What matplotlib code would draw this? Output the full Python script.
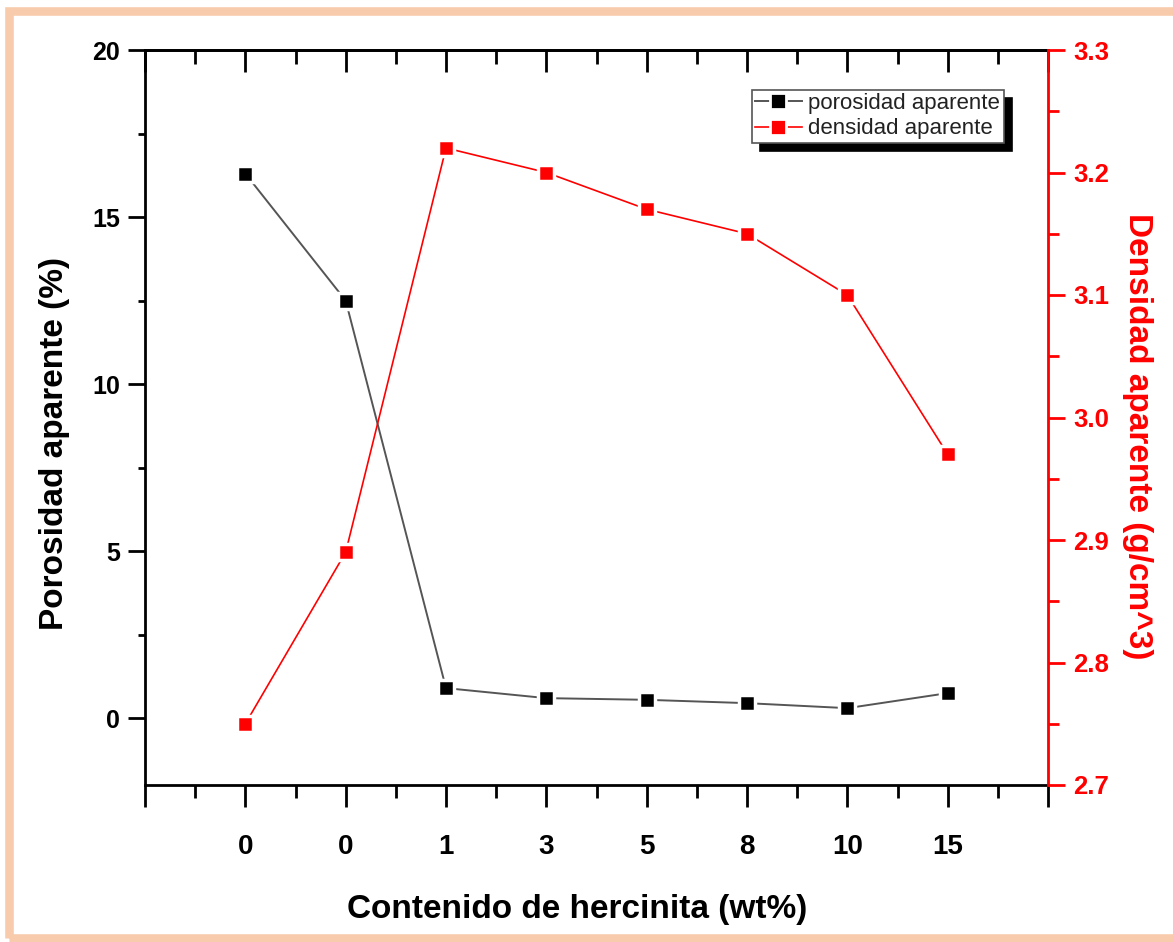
import matplotlib
matplotlib.use("Agg")
import matplotlib.pyplot as plt
from matplotlib.patches import Rectangle
from matplotlib.lines import Line2D
import numpy as np

plt.rcParams["font.family"] = ["Liberation Sans", "DejaVu Sans"]

# datos
etiquetas_x = ["0", "0", "1", "3", "5", "8", "10", "15"]
porosidad = [16.3, 12.5, 0.9, 0.6, 0.55, 0.45, 0.3, 0.75]
densidad = [2.75, 2.89, 3.22, 3.20, 3.17, 3.15, 3.10, 2.97]

W, H = 1173, 942
fig = plt.figure(figsize=(W / 100, H / 100), dpi=100, facecolor="white")

# marco color durazno
fig.patches.append(
    Rectangle((8.5 / W, 4 / H), (1176 - 8.5) / W, (931 - 4) / H,
              transform=fig.transFigure, fill=False,
              edgecolor="#F8CBAD", linewidth=6.2)
)

ax = fig.add_axes([145 / W, 1 - 785 / H, 903 / W, 735 / H])
ax2 = ax.twinx()

pos = np.arange(1, len(etiquetas_x) + 1)

ax.plot(pos, porosidad, color="#555555", lw=1.4, marker="s", ms=12,
        mfc="black", mec="white", mew=2.5, zorder=3)
ax2.plot(pos, densidad, color="red", lw=1.2, marker="s", ms=12,
         mfc="red", mec="white", mew=2.5, zorder=3)

# eje x
ax.set_xlim(0, 9)
ax.set_xticks(np.arange(0, 10))
ax.set_xticks(np.arange(0.5, 9, 1), minor=True)
ax.set_xticklabels([""] + etiquetas_x + [""], fontsize=20, fontweight="bold")
ax.tick_params(axis="x", which="major", direction="out", length=16, width=2, pad=19.5)
ax.tick_params(axis="x", which="minor", direction="out", length=9, width=2)

sec = ax.secondary_xaxis("top")
sec.set_xticks(np.arange(0, 10))
sec.set_xticks(np.arange(0.5, 9, 1), minor=True)
sec.tick_params(axis="x", which="major", direction="in", length=16, width=2, labeltop=False)
sec.tick_params(axis="x", which="minor", direction="in", length=10, width=2)
sec.spines["top"].set_linewidth(2)

# eje y izquierdo
ax.set_ylim(-2, 20)
ax.set_yticks([0, 5, 10, 15, 20])
ax.set_yticks([2.5, 7.5, 12.5, 17.5], minor=True)
ax.set_yticklabels(["0", "5", "10", "15", "20"], fontsize=18, fontweight="bold")
ax.tick_params(axis="y", which="major", direction="out", length=12, width=2, pad=6)
ax.tick_params(axis="y", which="minor", direction="out", length=5, width=2)
for s in ["left", "bottom", "top"]:
    ax.spines[s].set_linewidth(2)
ax.spines["right"].set_visible(False)

# eje y derecho
ax2.set_ylim(2.7, 3.3)
yt = [2.7, 2.8, 2.9, 3.0, 3.1, 3.2, 3.3]
ax2.set_yticks(yt)
ax2.set_yticks(np.arange(2.75, 3.3, 0.1), minor=True)
ax2.set_yticklabels([f"{v:.1f}" for v in yt], fontsize=18.5, fontweight="bold", color="red")
ax2.tick_params(axis="y", which="major", direction="out", length=12, width=2,
                color="red", pad=6)
ax2.tick_params(axis="y", which="minor", direction="out", length=8, width=2, color="red")
ax2.spines["right"].set_color("red")
ax2.spines["right"].set_linewidth(2)
for s in ["left", "top", "bottom"]:
    ax2.spines[s].set_visible(False)

ax.set_xlabel("Contenido de hercinita (wt%)", fontsize=24, fontweight="bold", labelpad=24)
ax.xaxis.label.set_x(0.478)
ax.set_ylabel("Porosidad aparente (%)", fontsize=24, fontweight="bold", labelpad=16)
ax.yaxis.label.set_y(0.464)
ax2.set_ylabel("Densidad aparente (g/cm^3)", fontsize=24, fontweight="bold",
               color="red", rotation=-90, labelpad=32)
ax2.yaxis.label.set_y(0.475)

handles = [
    Line2D([], [], color="#555555", lw=1.4, marker="s", ms=12, mfc="black", mec="white", mew=2),
    Line2D([], [], color="red", lw=1.2, marker="s", ms=12, mfc="red", mec="white", mew=2),
]
leg = ax2.legend(handles, ["porosidad aparente", "densidad aparente"],
                 loc="upper left", bbox_to_anchor=(0.672, 0.946), fontsize=16,
                 frameon=True, fancybox=False, edgecolor="#555555", framealpha=1,
                 borderpad=0.15, handlelength=2.1, handletextpad=0.3,
                 labelspacing=0.2, borderaxespad=0,
                 shadow={"ox": 6, "oy": -6, "color": "black", "alpha": 1})
leg.get_frame().set_linewidth(1.2)
for t in leg.get_texts():
    t.set_color("#222222")

fig.savefig("out.png", dpi=100, facecolor="white")
